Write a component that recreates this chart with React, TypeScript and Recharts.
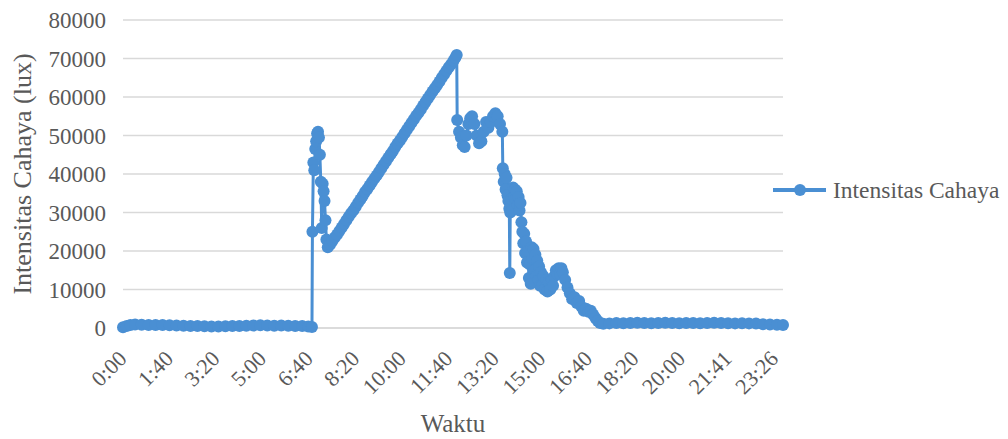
import { LineChart, Line, XAxis, YAxis, CartesianGrid, Label } from "recharts";

const BLUE = "#4A8FD3";
const TEXT = "#595959";
const FONT = '"Liberation Serif", "Times New Roman", serif';

// position of each reading along the category axis (one step per logged sample)
const sampleIdx = [
  0, 8, 16, 26, 40, 55, 70, 85, 100, 115, 130, 145, 160, 175, 190, 205, 220, 235, 250, 265, 280,
  295, 310, 325, 340, 355, 370, 385, 398, 406,
  407, 409, 411, 413, 415, 417, 419, 421, 423, 425, 427, 429, 431, 433, 435, 437, 440,
  445, 450, 455, 460, 465, 470, 475, 480, 485, 490, 495, 500, 505, 510, 515, 520, 525, 530, 535,
  540, 545, 550, 555, 560, 565, 570, 575, 580, 585, 590, 595, 600, 605, 610, 615, 620, 625, 630,
  635, 640, 645, 650, 655, 660, 665, 670, 675, 680, 685, 690, 695, 700, 705, 710, 714, 717,
  718, 722, 726, 730, 734, 738, 742, 746, 750, 755, 760, 765, 770, 775, 780, 785, 790, 795, 800,
  805, 810, 815,
  816, 818, 820, 822, 824, 826, 828, 830, 831, 832, 834, 836, 838, 840, 842, 844, 846, 848, 850,
  852, 854, 856, 858, 860, 862, 864, 866, 868, 870, 872, 874, 876, 878, 880, 882, 884, 886, 888,
  890, 892, 894, 896, 898, 900, 903, 906, 909, 912, 915, 918, 921, 924, 927, 930, 933, 936, 939,
  942, 945, 950, 955, 960, 965, 970, 975, 980, 985, 990, 995, 1000, 1005, 1010, 1015, 1020, 1025,
  1032, 1045, 1060, 1075, 1090, 1105, 1120, 1135, 1150, 1165, 1180, 1195, 1210, 1225, 1240, 1255,
  1270, 1285, 1300, 1315, 1330, 1345, 1360, 1375, 1390, 1405, 1418,
];

const lux = [
  200, 500, 800, 900, 850, 800, 750, 800, 700, 650, 600, 550, 500, 450, 400, 400, 450, 500, 550, 600, 650,
  700, 650, 600, 650, 600, 550, 500, 400, 250,
  25000, 43000, 41000, 46500, 48500, 50500, 51000, 49500, 45000, 38000, 26000, 37500, 35500, 33000, 28000, 23000, 21000,
  21700, 22600, 23500, 24300, 25200, 26100, 27000, 28000, 28900, 29800, 30600, 31500, 32500, 33400, 34300, 35300, 36100, 37000, 37900,
  38800, 39600, 40500, 41500, 42400, 43300, 44200, 45100, 46000, 47000, 47900, 48700, 49600, 50600, 51500, 52400, 53300, 54200, 55100,
  55900, 56800, 57800, 58700, 59600, 60500, 61400, 62300, 63100, 64000, 65000, 65900, 66800, 67700, 68500, 69400, 70200, 70900,
  54000, 51000, 49500, 47500, 47000, 50000, 53000, 54500, 55000, 53000, 50000, 48000, 48500, 51000, 53500, 52000, 53500, 55000, 55800,
  55000, 53000, 51000,
  41500, 38000, 40000, 36000, 39000, 34500, 33000, 31000, 14300, 30000, 33500, 30500, 36500, 34000, 36000, 33500, 35500, 32000, 34000,
  30500, 32500, 27500, 25000, 22000, 24500, 19500, 22500, 17000, 20000, 13000, 16500, 11500, 21000, 18000, 20500, 15000, 19000, 13500,
  17500, 12500, 16000, 11000, 14500, 11000, 13500, 10000, 12500, 9500, 12000, 10000, 12500, 11000, 13500, 15000, 14000, 15500, 14000,
  15500, 14500, 12500, 10500, 9000, 7500, 8000, 6500, 7000, 5500, 4500, 5000, 4200, 4500, 3500, 2600, 1800, 1300,
  1100, 1200, 1300, 1250, 1300, 1350, 1300, 1250, 1300, 1350, 1300, 1250, 1300, 1300, 1250, 1300,
  1350, 1300, 1250, 1200, 1250, 1200, 1150, 1000, 900, 850, 750,
];

const xTicks = [0, 100, 200, 300, 400, 500, 600, 700, 800, 900, 1000, 1100, 1200, 1300, 1400];
const xTickLabels = [
  "0:00", "1:40", "3:20", "5:00", "6:40", "8:20", "10:00", "11:40", "13:20", "15:00",
  "16:40", "18:20", "20:00", "21:41", "23:26",
];
const yTicks = [0, 10000, 20000, 30000, 40000, 50000, 60000, 70000, 80000];

const data = sampleIdx.map((s, i) => ({ s, lux: lux[i] }));

function TimeTick(props: any) {
  const { x, y, payload } = props;
  const i = xTicks.indexOf(payload.value);
  return (
    <g transform={`translate(${x + 5},${y + 32})`}>
      <text textAnchor="end" transform="rotate(-45)" fill={TEXT} fontSize={22} fontFamily={FONT}>
        {xTickLabels[i]}
      </text>
    </g>
  );
}

function LuxTick(props: any) {
  const { x, y, payload } = props;
  return (
    <text x={x} y={y} dy={8} textAnchor="end" fill={TEXT} fontSize={23} fontFamily={FONT}>
      {payload.value}
    </text>
  );
}

// legend drawn beside the plot, outside recharts' layout so the plot keeps its width
function LegendBox() {
  return (
    <svg width={238} height={40} style={{ position: "absolute", left: 770, top: 170 }}>
      <line x1={3} y1={20} x2={56} y2={20} stroke={BLUE} strokeWidth={4} />
      <circle cx={30} cy={20} r={6} fill={BLUE} />
      <text x={63} y={28} fill={TEXT} fontSize={23.5} fontFamily={FONT}>
        Intensitas Cahaya
      </text>
    </svg>
  );
}

export default function App() {
  return (
    <div style={{ position: "absolute", left: 0, top: 0, width: 1008, height: 439, background: "#fff" }}>
      <LineChart width={1008} height={439} data={data} margin={{ top: 20, right: 225, left: 0, bottom: 0 }}>
        <CartesianGrid vertical={false} stroke="#d9d9d9" strokeWidth={1.5} />
        <XAxis
          type="number"
          dataKey="s"
          domain={[0, 1418]}
          ticks={xTicks}
          interval={0}
          height={111}
          tickSize={0}
          tickMargin={0}
          axisLine={{ stroke: "#d9d9d9", strokeWidth: 1.5 }}
          tickLine={false}
          tick={<TimeTick />}
        >
          <Label
            content={({ viewBox }: any) => (
              <text
                x={viewBox.x + viewBox.width / 2}
                y={viewBox.y + 104}
                textAnchor="middle"
                fill={TEXT}
                fontSize={25}
                fontFamily={FONT}
              >
                Waktu
              </text>
            )}
          />
        </XAxis>
        <YAxis
          domain={[0, 80000]}
          ticks={yTicks}
          width={123}
          tickSize={0}
          tickMargin={17}
          axisLine={false}
          tickLine={false}
          tick={<LuxTick />}
        >
          <Label
            content={({ viewBox }: any) => {
              const cy = viewBox.y + viewBox.height / 2;
              return (
                <text
                  x={31}
                  y={cy}
                  textAnchor="middle"
                  transform={`rotate(-90, 31, ${cy})`}
                  fill={TEXT}
                  fontSize={26}
                  fontFamily={FONT}
                >
                  Intensitas Cahaya (lux)
                </text>
              );
            }}
          />
        </YAxis>
        <Line
          type="linear"
          dataKey="lux"
          name="Intensitas Cahaya"
          stroke={BLUE}
          strokeWidth={3}
          dot={{ r: 6, fill: BLUE, stroke: BLUE, strokeWidth: 0 }}
          activeDot={false}
          isAnimationActive={false}
        />
      </LineChart>
      <LegendBox />
    </div>
  );
}
